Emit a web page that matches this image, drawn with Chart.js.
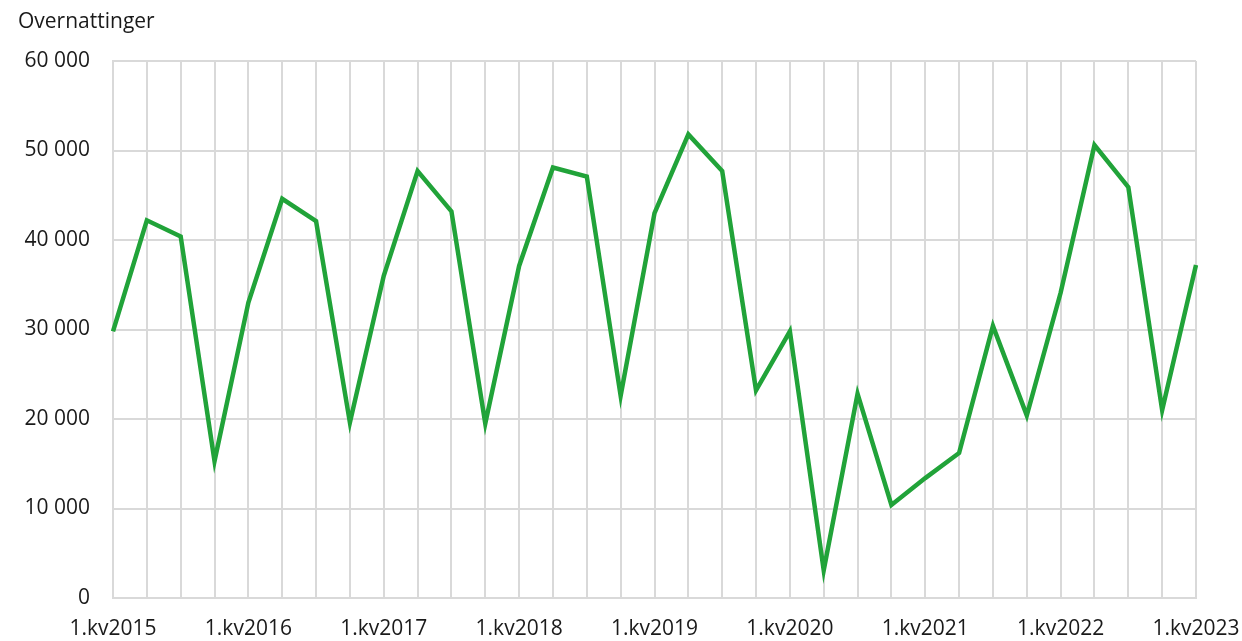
<!DOCTYPE html>
<html>
<head>
<meta charset="utf-8">
<script src="https://cdn.jsdelivr.net/npm/chart.js@4/dist/chart.umd.min.js"></script>
<style>
  html, body { margin: 0; padding: 0; background: #fff; }
  #wrap { width: 1242px; height: 641px; }
</style>
</head>
<body>
<div id="wrap"><canvas id="chart" width="1242" height="641"></canvas></div>
<script>
// kvartaler
const quarters = [
  "1.kv2015", "2.kv2015", "3.kv2015", "4.kv2015",
  "1.kv2016", "2.kv2016", "3.kv2016", "4.kv2016",
  "1.kv2017", "2.kv2017", "3.kv2017", "4.kv2017",
  "1.kv2018", "2.kv2018", "3.kv2018", "4.kv2018",
  "1.kv2019", "2.kv2019", "3.kv2019", "4.kv2019",
  "1.kv2020", "2.kv2020", "3.kv2020", "4.kv2020",
  "1.kv2021", "2.kv2021", "3.kv2021", "4.kv2021",
  "1.kv2022", "2.kv2022", "3.kv2022", "4.kv2022",
  "1.kv2023"
];

// overnattinger per kvartal
const overnattinger = [
  29800, 42200, 40400, 15300,
  33000, 44600, 42100, 19600,
  36000, 47700, 43200, 19500,
  37100, 48100, 47100, 22600,
  43000, 51800, 47700, 23200,
  29800, 3100, 22800, 10400,
  13400, 16200, 30400, 20400,
  34100, 50600, 45900, 21000,
  37200
];

const yTicks = [0, 10000, 20000, 30000, 40000, 50000, 60000];

const textColor = "#1a1a1a";
const gridColor = "#d9d9d9";
const fontFamily = "'Open Sans', 'Noto Sans', sans-serif";

function formatNumber(v) {
  return String(v).replace(/\B(?=(\d{3})+(?!\d))/g, " ");
}

// tittel oppe til venstre
const titlePlugin = {
  id: "axisTitle",
  afterDraw(chart) {
    const ctx = chart.ctx;
    ctx.save();
    ctx.font = "21px " + fontFamily;
    ctx.fillStyle = textColor;
    ctx.textBaseline = "middle";
    ctx.textAlign = "left";
    ctx.fillText("Overnattinger", 18, 22);
    ctx.restore();
  }
};

const ctx = document.getElementById("chart").getContext("2d");
new Chart(ctx, {
  type: "line",
  data: {
    labels: quarters,
    datasets: [{
      label: "Overnattinger",
      data: overnattinger,
      borderColor: "#21a339",
      borderWidth: 4.5,
      pointRadius: 0,
      tension: 0,
      fill: false
    }]
  },
  options: {
    responsive: false,
    animation: false,
    layout: { padding: { top: 61, right: 46, left: 0, bottom: 0 } },
    plugins: {
      legend: { display: false },
      tooltip: { enabled: false }
    },
    scales: {
      x: {
        grid: { color: gridColor, lineWidth: 2, drawTicks: false },
        border: { color: gridColor, width: 2 },
        ticks: {
          autoSkip: false,
          maxRotation: 0,
          padding: 18,
          color: textColor,
          font: { size: 21, family: fontFamily },
          callback: function (value, index) {
            const lbl = quarters[index];
            return lbl.startsWith("1.") ? lbl : "";
          }
        },
        afterFit(scale) {
          scale.height = 43;
          scale.paddingLeft = 0;
          scale.paddingRight = 0;
        }
      },
      y: {
        min: 0,
        max: 60000,
        afterBuildTicks(scale) { scale.ticks = yTicks.map(v => ({ value: v })); },
        grid: { color: gridColor, lineWidth: 2, drawTicks: false },
        border: { color: gridColor, width: 2 },
        ticks: {
          padding: 23,
          color: textColor,
          font: { size: 21, family: fontFamily },
          callback: v => formatNumber(v)
        },
        afterFit(scale) {
          scale.width = 113;
          scale.paddingTop = 0;
          scale.paddingBottom = 0;
        }
      }
    }
  },
  plugins: [titlePlugin]
});
</script>
</body>
</html>
